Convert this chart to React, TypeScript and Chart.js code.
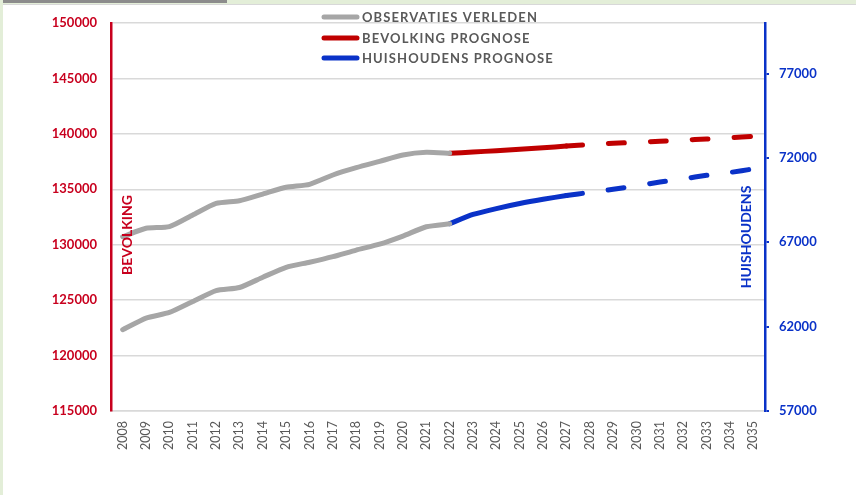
import React, { useEffect, useRef } from "react";
import { Chart, registerables } from "chart.js";

Chart.register(...registerables);

const years = [
  "2008", "2009", "2010", "2011", "2012", "2013", "2014", "2015", "2016", "2017",
  "2018", "2019", "2020", "2021", "2022", "2023", "2024", "2025", "2026", "2027",
  "2028", "2029", "2030", "2031", "2032", "2033", "2034", "2035",
];

// Observed population (left axis), 2008-2022
const obsPopulation = [
  130720, 131480, 131630, 132680, 133730, 133970, 134570, 135180, 135450, 136290,
  136950, 137520, 138090, 138330, 138240,
];
// Observed households (right axis), 2008-2022
const obsHouseholds = [
  61820, 62510, 62840, 63490, 64140, 64320, 64930, 65520, 65820, 66150,
  66540, 66890, 67370, 67920, 68100,
];
// Forecast population, 2022-2035
const popForecast = [
  138240, 138360, 138480, 138610, 138750, 138900, 139040, 139150, 139240, 139330,
  139430, 139540, 139640, 139780,
];
// Forecast households, 2022-2035
const hhForecast = [
  68100, 68650, 69000, 69300, 69550, 69770, 69960, 70140, 70350, 70570,
  70760, 70970, 71140, 71350,
];

const leftTicks = [115000, 120000, 125000, 130000, 135000, 140000, 145000, 150000];
const rightTicks = [57000, 62000, 67000, 72000, 77000];

const legendLabels = ["OBSERVATIES VERLEDEN", "BEVOLKING PROGNOSE", "HUISHOUDENS PROGNOSE"];
const leftTitle = "BEVOLKING";
const rightTitle = "HUISHOUDENS";

const GRAY = "#a6a6a6";
const RED = "#c00000";
const BLUE = "#0a32c8";
const RED_TXT = "#c8001e";
const BLUE_TXT = "#0a32c8";
const TXT_GRAY = "#595959";

const FORECAST_START = years.indexOf("2022");
const DASH_START = years.indexOf("2027");

function pad(arr: number[], start: number): (number | null)[] {
  const out: (number | null)[] = years.map(() => null);
  arr.forEach((v, i) => (out[start + i] = v));
  return out;
}

const overlayPlugin = {
  id: "overlay",
  afterDraw(chart: any) {
    const ctx = chart.ctx;
    const area = chart.chartArea;
    ctx.save();
    // custom legend
    const colors = [GRAY, RED, BLUE];
    const rows = [17, 38, 58];
    ctx.lineCap = "round";
    ctx.lineWidth = 5;
    ctx.font = "bold 13px Lato";
    ctx.textBaseline = "middle";
    ctx.textAlign = "left";
    (ctx as any).letterSpacing = "1.1px";
    legendLabels.forEach((t, i) => {
      ctx.strokeStyle = colors[i];
      ctx.beginPath();
      ctx.moveTo(324, rows[i]);
      ctx.lineTo(357, rows[i]);
      ctx.stroke();
      ctx.fillStyle = TXT_GRAY;
      ctx.fillText(t, 362, rows[i] + 1);
    });
    (ctx as any).letterSpacing = "0px";
    // axis titles inside plot area
    ctx.font = "bold 14px Lato";
    ctx.textAlign = "center";
    ctx.fillStyle = RED_TXT;
    ctx.save();
    ctx.translate(area.left + 16, 235);
    ctx.rotate(-Math.PI / 2);
    ctx.fillText(leftTitle, 0, 0);
    ctx.restore();
    ctx.fillStyle = BLUE_TXT;
    ctx.save();
    ctx.translate(area.right - 19, 237);
    ctx.rotate(-Math.PI / 2);
    ctx.fillText(rightTitle, 0, 0);
    ctx.restore();
    ctx.restore();
  },
};

export default function App() {
  const ref = useRef<HTMLCanvasElement>(null);

  useEffect(() => {
    if (!ref.current) return;
    const dashSeg = (ctx: any) => (ctx.p0DataIndex >= DASH_START ? [16, 26] : undefined);
    const common = {
      borderWidth: 5,
      pointRadius: 0,
      pointHoverRadius: 0,
      tension: 0.2,
      borderCapStyle: "round",
      borderJoinStyle: "round",
      fill: false,
    };
    const plain = (v: any) => String(v);
    const chart = new Chart(ref.current, {
      type: "line",
      data: {
        labels: years,
        datasets: [
          {
            ...common,
            label: legendLabels[0],
            data: pad(obsPopulation, 0),
            borderColor: GRAY,
            backgroundColor: GRAY,
            yAxisID: "y",
          },
          {
            ...common,
            label: legendLabels[0],
            data: pad(obsHouseholds, 0),
            borderColor: GRAY,
            backgroundColor: GRAY,
            yAxisID: "y1",
          },
          {
            ...common,
            label: legendLabels[1],
            data: pad(popForecast, FORECAST_START),
            borderColor: RED,
            backgroundColor: RED,
            yAxisID: "y",
            segment: { borderDash: dashSeg },
          },
          {
            ...common,
            label: legendLabels[2],
            data: pad(hhForecast, FORECAST_START),
            borderColor: BLUE,
            backgroundColor: BLUE,
            yAxisID: "y1",
            segment: { borderDash: dashSeg },
          },
        ] as any,
      },
      options: {
        animation: false,
        responsive: false,
        maintainAspectRatio: false,
        layout: { padding: { top: 23, left: 0, right: 0, bottom: 0 } },
        plugins: {
          legend: { display: false },
          tooltip: { enabled: false },
        },
        scales: {
          x: {
            offset: true,
            grid: { display: false, drawTicks: false },
            border: { display: true, color: "#d9d9d9", width: 1.5 },
            ticks: {
              color: TXT_GRAY,
              font: { family: "Lato", size: 12.5 },
              minRotation: 90,
              maxRotation: 90,
              padding: 10,
              autoSkip: false,
            },
            afterFit: (s: any) => {
              s.height = 84;
            },
          },
          y: {
            position: "left",
            min: 115000,
            max: 150000,
            afterBuildTicks: (axis: any) => {
              axis.ticks = leftTicks.map((v) => ({ value: v }));
            },
            grid: { color: "#d9d9d9", lineWidth: 1.5, drawTicks: false },
            border: { display: true, color: RED_TXT, width: 2.5 },
            ticks: {
              color: RED_TXT,
              font: { family: "Lato", size: 13, weight: "bold" },
              padding: 14,
              callback: plain,
            },
            afterFit: (s: any) => {
              s.width = 111;
            },
          },
          y1: {
            position: "right",
            min: 57000,
            max: 80000,
            afterBuildTicks: (axis: any) => {
              axis.ticks = rightTicks.map((v) => ({ value: v }));
            },
            grid: {
              drawOnChartArea: false,
              drawTicks: true,
              tickLength: 4,
              color: BLUE,
              lineWidth: 2,
            },
            border: { display: true, color: BLUE, width: 2.5 },
            ticks: {
              color: BLUE_TXT,
              font: { family: "Lato", size: 13, weight: "bold" },
              padding: 10,
              callback: plain,
            },
            afterFit: (s: any) => {
              s.width = 91;
            },
          },
        },
      } as any,
      plugins: [overlayPlugin],
    });
    return () => chart.destroy();
  }, []);

  return (
    <div
      style={{
        position: "fixed",
        left: 0,
        top: 0,
        width: 856,
        height: 495,
        background: "#ffffff",
        overflow: "hidden",
      }}
    >
      <div style={{ position: "absolute", left: 0, top: 0, width: 856, height: 4, background: "#e3eed8" }} />
      <div style={{ position: "absolute", left: 0, top: 0, width: 227, height: 3, background: "#8c8c8c" }} />
      <div style={{ position: "absolute", left: 0, top: 4, width: 856, height: 1, background: "#d8d8d8" }} />
      <div style={{ position: "absolute", left: 0, top: 0, width: 3, height: 495, background: "#e3eed8" }} />
      <canvas ref={ref} width={856} height={495} style={{ position: "absolute", left: 0, top: 0 }} />
    </div>
  );
}
